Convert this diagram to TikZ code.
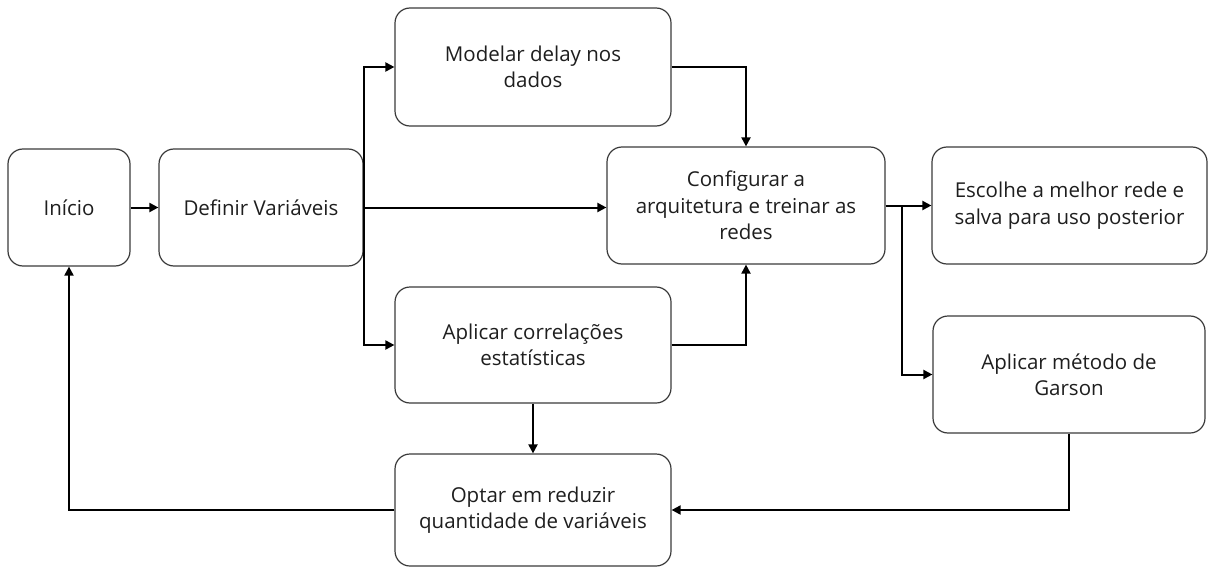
\documentclass[tikz,border=0pt]{standalone}
\usepackage{fontspec}
\setmainfont{Open Sans}
\usetikzlibrary{arrows.meta}
\definecolor{boxline}{HTML}{3A3A3A}
\definecolor{txt}{HTML}{1E1E1E}
\tikzset{
  proc/.style={draw=boxline, line width=1.2pt, rounded corners=15pt, align=center,
    inner sep=0pt, text=txt, font=\fontsize{20.5}{26.5}\selectfont},
  flow/.style={line width=2pt, -{Triangle[length=9pt,width=9pt]}}
}
\begin{document}
\begin{tikzpicture}[x=1pt, y=-1pt]
\useasboundingbox (0,0) rectangle (1209,567);

\node[proc, minimum width=122pt, minimum height=117pt] (inicio)  at (69,207.5)   {Início};
\node[proc, minimum width=204pt, minimum height=117pt] (definir) at (261,207.5)  {Definir Variáveis};
\node[proc, minimum width=276pt, minimum height=118pt] (modelar) at (533,67)     {Modelar delay nos\\dados};
\node[proc, minimum width=278pt, minimum height=117pt] (config)  at (746,205.5)  {Configurar a\\arquitetura e treinar as\\redes};
\node[proc, minimum width=275pt, minimum height=117pt] (escolhe) at (1069.5,205.5) {Escolhe a melhor rede e\\salva para uso posterior};
\node[proc, minimum width=276pt, minimum height=116pt] (aplicar) at (533,345)    {Aplicar correlações\\estatísticas};
\node[proc, minimum width=272pt, minimum height=117pt] (garson)  at (1069,374.5) {Aplicar método de\\Garson};
\node[proc, minimum width=276pt, minimum height=112pt] (optar)   at (533,510)    {Optar em reduzir\\quantidade de variáveis};

\coordinate (split) at (902,205.5);

\draw[flow] (inicio.east) -- (definir.east -| inicio.east) -- (definir.west);
\draw[flow] (definir.east) -- (definir.east -| config.west);
\draw[flow] (definir.east) |- (modelar.west);
\draw[flow] (definir.east) |- (aplicar.west);
\draw[flow] (modelar.east) -| (config.north);
\draw[flow] (aplicar.east) -| (config.south);
\draw[flow] (aplicar.south) -- (optar.north);
\draw[flow] (config.east) -- (escolhe.west);
\draw[flow] (split) |- (garson.west);
\draw[flow] (garson.south) |- (optar.east);
\draw[flow] (optar.west) -| (inicio.south);
\end{tikzpicture}
\end{document}
